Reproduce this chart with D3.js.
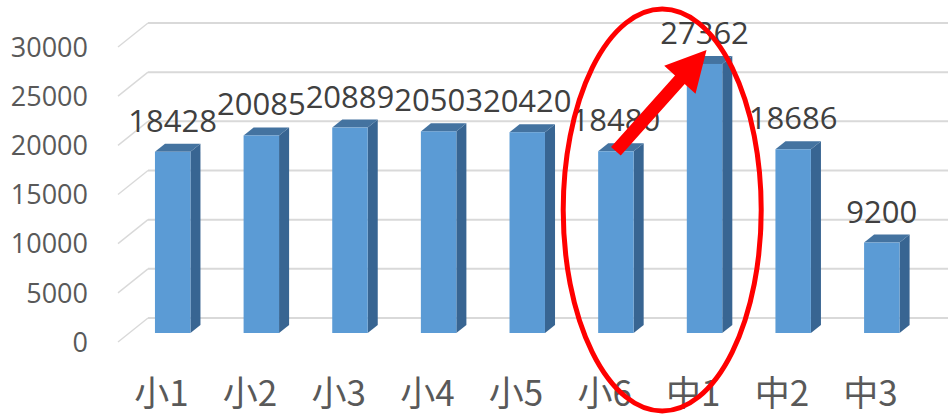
<!DOCTYPE html>
<html>
<head>
<meta charset="utf-8">
<script src="https://cdn.jsdelivr.net/npm/d3@7"></script>
<style>
  body { margin: 0; background: #fff; }
</style>
</head>
<body>
<div id="chart"></div>
<script>
// data
var categories = ["小1", "小2", "小3", "小4", "小5", "小6", "中1", "中2", "中3"];
var values = [18428, 20085, 20889, 20503, 20420, 18480, 27362, 18686, 9200];
var tickValues = [0, 5000, 10000, 15000, 20000, 25000, 30000];

var width = 948, height = 414;

// oblique depth: back wall -> front floor edge
var depthX = -30, depthY = 24;
var zFront = 0.625, zBack = 0.29;

var svg = d3.select("#chart").append("svg")
	.attr("width", width)
	.attr("height", height);

// back wall scales
var x = d3.scaleBand()
	.domain(categories)
	.range([148, 944])
	.paddingInner(0.6)
	.paddingOuter(0.29);

var y = d3.scaleLinear()
	.domain([0, 30000])
	.range([318, 23]);

function px(xb, z) { return xb + depthX * z; }
function py(yb, z) { return yb + depthY * z; }

// grid on back wall + floor diagonals
var grid = svg.append("g");
tickValues.forEach(function(t) {
	grid.append("line")
		.attr("x1", 148).attr("x2", width)
		.attr("y1", y(t)).attr("y2", y(t))
		.attr("stroke", "#d9d9d9").attr("stroke-width", 2);
	grid.append("line")
		.attr("x1", 148).attr("y1", y(t))
		.attr("x2", px(148, 1)).attr("y2", py(y(t), 1))
		.attr("stroke", "#d9d9d9").attr("stroke-width", 1.5);
});

// axis labels
svg.append("g").selectAll("text")
	.data(tickValues)
	.enter().append("text")
	.attr("x", 88)
	.attr("y", function(d) { return py(y(d), 1); })
	.attr("dy", "0.36em")
	.attr("text-anchor", "end")
	.attr("font-family", "'Open Sans', sans-serif")
	.attr("font-size", 27)
	.attr("fill", "#595959")
	.text(function(d) { return d; });

// bars
var data = categories.map(function(c, i) { return { cat: c, v: values[i] }; });
var bw = x.bandwidth();

var bars = svg.append("g").selectAll("g")
	.data(data)
	.enter().append("g");

function face(d) {
	var xb = x(d.cat);
	var fl = px(xb, zFront), fr = fl + bw;
	var bl = px(xb, zBack), br = bl + bw;
	var ft = py(y(d.v), zFront), fb = py(y(0), zFront);
	var bt = py(y(d.v), zBack), bb = py(y(0), zBack);
	return { fl: fl, fr: fr, bl: bl, br: br, ft: ft, fb: fb, bt: bt, bb: bb };
}

// side
bars.append("polygon")
	.attr("points", function(d) {
		var f = face(d);
		return [[f.fr, f.ft], [f.br, f.bt], [f.br, f.bb], [f.fr, f.fb]].join(" ");
	})
	.attr("fill", "#386592");

// top
bars.append("polygon")
	.attr("points", function(d) {
		var f = face(d);
		return [[f.fl, f.ft], [f.fr, f.ft], [f.br, f.bt], [f.bl, f.bt]].join(" ");
	})
	.attr("fill", "#4473a0");

// front
bars.append("rect")
	.attr("x", function(d) { return face(d).fl; })
	.attr("y", function(d) { return face(d).ft; })
	.attr("width", bw)
	.attr("height", function(d) { var f = face(d); return f.fb - f.ft; })
	.attr("fill", "#5b9bd5");

// value labels
svg.append("g").selectAll("text")
	.data(data)
	.enter().append("text")
	.attr("x", function(d) { return face(d).fl + bw / 2; })
	.attr("y", function(d) { return face(d).ft - 20; })
	.attr("text-anchor", "middle")
	.attr("font-family", "'Open Sans', sans-serif")
	.attr("font-size", 31)
	.attr("fill", "#404040")
	.text(function(d) { return d.v; });

// category labels
svg.append("g").selectAll("text")
	.data(categories)
	.enter().append("text")
	.attr("x", function(d) { return px(x(d) + bw / 2, 1); })
	.attr("y", 406)
	.attr("text-anchor", "middle")
	.attr("font-family", "'Noto Sans CJK JP', sans-serif")
	.attr("font-size", 35)
	.attr("fill", "#595959")
	.text(function(d) { return d; });

// annotation: red ellipse around 小6 / 中1, arrow between their tops
var a = face(data[5]), b = face(data[6]);
var cx = ((a.fl + bw / 2) + (b.fl + bw / 2)) / 2 + 2;
svg.append("ellipse")
	.attr("cx", cx)
	.attr("cy", 210)
	.attr("rx", 99)
	.attr("ry", 201)
	.attr("fill", "none")
	.attr("stroke", "#ff0000")
	.attr("stroke-width", 5);

var x0 = a.fl + bw / 2, y0 = a.ft;
var x1 = b.fl + bw / 2 + 2, y1 = b.ft - 14;
var ang = Math.atan2(y1 - y0, x1 - x0);
var len = Math.hypot(x1 - x0, y1 - y0);
var headL = 40, headW = 21, shaft = 6.5;
var pts = [
	[0, -shaft], [len - headL, -shaft], [len - headL, -headW],
	[len, 0], [len - headL, headW], [len - headL, shaft], [0, shaft]
].map(function(p) {
	return [x0 + p[0] * Math.cos(ang) - p[1] * Math.sin(ang),
		y0 + p[0] * Math.sin(ang) + p[1] * Math.cos(ang)];
});
svg.append("polygon")
	.attr("points", pts.join(" "))
	.attr("fill", "#ff0000");
</script>
</body>
</html>
